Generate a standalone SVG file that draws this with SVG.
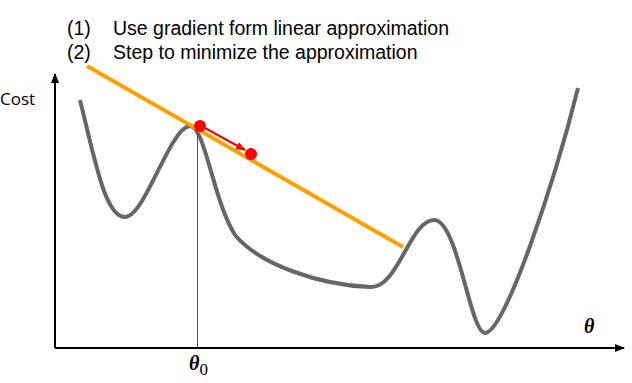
<svg xmlns="http://www.w3.org/2000/svg" width="632" height="383" viewBox="0 0 632 383">
<defs>
<style>
.t{font-family:"Liberation Sans",Arial,sans-serif;font-size:19.5px;fill:#000}
.th{font-family:"Liberation Serif","Times New Roman",serif;font-weight:bold;font-style:italic;fill:#000}
</style>
<marker id="ah" markerWidth="10" markerHeight="8" refX="9" refY="4" orient="auto" markerUnits="userSpaceOnUse"><path d="M0,0 L10,4 L0,8 Z" fill="#000"/></marker>
<marker id="ar" markerWidth="10" markerHeight="8" refX="9" refY="4" orient="auto" markerUnits="userSpaceOnUse"><path d="M0,0 L10,4 L0,8 Z" fill="#f00"/></marker>
</defs>
<rect width="632" height="383" fill="#fff"/>
<g id="title">
<text class="t" x="67" y="35">(1)</text><text class="t" x="113" y="35">Use gradient form linear approximation</text>
<text class="t" x="67" y="59">(2)</text><text class="t" x="113" y="59">Step to minimize the approximation</text>
</g>
<g id="axes">
<line x1="55" y1="348" x2="55" y2="74" stroke="#000" stroke-width="2" marker-end="url(#ah)"/>
<line x1="55" y1="348" x2="624" y2="348" stroke="#000" stroke-width="2" marker-end="url(#ah)"/>
<text x="0" y="105" style="font-family:'Open Sans','Liberation Sans',sans-serif;font-size:17px">Cost</text>
<text class="th" x="584" y="333" font-size="20">θ</text>
<text class="th" x="189" y="370" font-size="20">θ<tspan font-style="normal" font-weight="normal" font-size="17" dy="5">0</tspan></text>
</g>
<g id="curve">
<path d="M80,100 C95,160 105,217 125,217 C145,217 170,127 190,126 C205,126 213,200 235,235 C260,265 320,285 370,287 C398,289 410,220 434,220 C458,220 470,333 485,333 C505,333 555,180 578,88" fill="none" stroke="#666" stroke-width="4"/>
</g>
<g id="tangent">
<line x1="87" y1="66" x2="403" y2="247" stroke="#ffa000" stroke-width="4"/>
</g>
<g id="connectors">
<line x1="197.5" y1="130" x2="197.5" y2="347" stroke="#b02040" stroke-width="1"/>
<line x1="205" y1="128" x2="245" y2="150" stroke="#f00" stroke-width="2" marker-end="url(#ar)"/>
</g>
<g id="points">
<circle cx="200" cy="126" r="6" fill="#f00"/>
<circle cx="251" cy="154" r="6" fill="#f00"/>
</g>
</svg>
